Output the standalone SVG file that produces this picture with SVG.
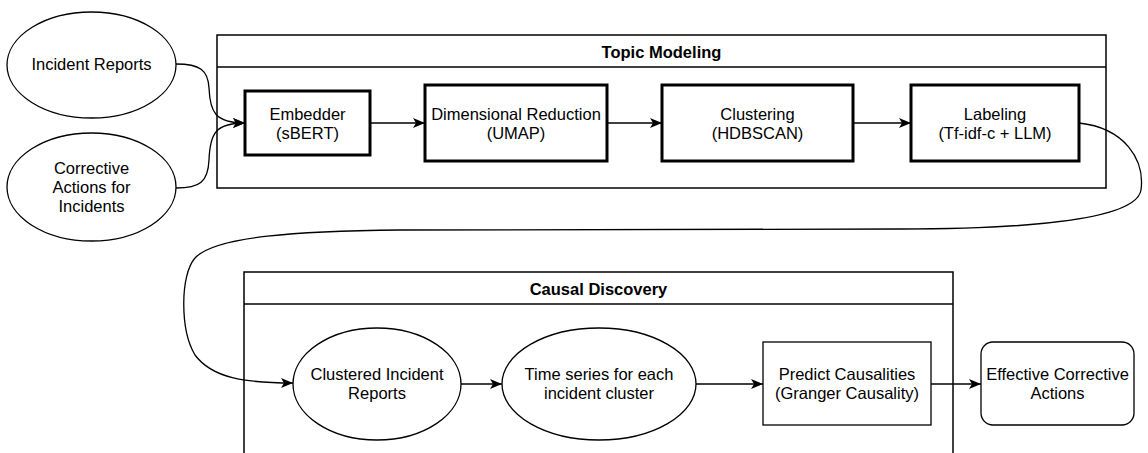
<svg xmlns="http://www.w3.org/2000/svg" width="1148" height="453" viewBox="0 0 1148 453">
<style>
text{font-family:"Liberation Sans",Arial,sans-serif;font-size:16.5px;fill:#000;text-anchor:middle}
.t{font-weight:bold}
.c{fill:#fff;stroke:#000;stroke-width:1.5}
.thick{fill:#fff;stroke:#000;stroke-width:3}
.n{fill:#fff;stroke:#000;stroke-width:1.3}
.e{fill:none;stroke:#000;stroke-width:1.3}
</style>
<defs>
<marker id="a" viewBox="0 0 12 10" refX="12" refY="5" markerWidth="12" markerHeight="10" markerUnits="userSpaceOnUse" orient="auto">
<path d="M0,0 L12,5 L0,10 L3,5 Z" fill="#000"/>
</marker>
</defs>
<rect width="1148" height="453" fill="#fff"/>
<g id="topic-modeling">
<rect class="c" x="217" y="35" width="889" height="153"/>
<line class="c" x1="217" y1="67" x2="1106" y2="67"/>
<text class="t" x="661.5" y="58">Topic Modeling</text>
</g>
<g id="causal-discovery">
<rect class="c" x="244" y="272" width="709" height="190"/>
<line class="c" x1="244" y1="304" x2="953" y2="304"/>
<text class="t" x="598.5" y="295">Causal Discovery</text>
</g>
<g id="incident-reports">
<ellipse class="n" cx="91.5" cy="65" rx="84.5" ry="53"/>
<text x="91.5" y="70">Incident Reports</text>
</g>
<g id="corrective-actions">
<ellipse class="n" cx="91.5" cy="187" rx="84.5" ry="54"/>
<text x="91.5" y="174">Corrective</text>
<text x="91.5" y="193">Actions for</text>
<text x="91.5" y="212">Incidents</text>
</g>
<g id="embedder">
<rect class="thick" x="245" y="91" width="125" height="64"/>
<text x="307.5" y="120">Embedder</text>
<text x="307.5" y="139">(sBERT)</text>
</g>
<g id="dim-reduction">
<rect class="thick" x="425" y="85" width="182" height="76"/>
<text x="516" y="120">Dimensional Reduction</text>
<text x="516" y="139">(UMAP)</text>
</g>
<g id="clustering">
<rect class="thick" x="662" y="85" width="191" height="76"/>
<text x="757.5" y="120">Clustering</text>
<text x="757.5" y="139">(HDBSCAN)</text>
</g>
<g id="labeling">
<rect class="thick" x="911" y="85" width="168" height="76"/>
<text x="995" y="120">Labeling</text>
<text x="995" y="139">(Tf-idf-c + LLM)</text>
</g>
<g id="clustered-incident-reports">
<ellipse class="n" cx="377" cy="384" rx="84" ry="56"/>
<text x="377" y="380">Clustered Incident</text>
<text x="377" y="399">Reports</text>
</g>
<g id="time-series">
<ellipse class="n" cx="599" cy="384" rx="97" ry="56"/>
<text x="599" y="380">Time series for each</text>
<text x="599" y="399">incident cluster</text>
</g>
<g id="predict-causalities">
<rect class="n" x="763" y="342" width="168" height="83"/>
<text x="847" y="380">Predict Causalities</text>
<text x="847" y="399">(Granger Causality)</text>
</g>
<g id="effective-actions">
<rect class="n" x="981" y="342" width="153" height="83" rx="12" ry="12"/>
<text x="1057.5" y="380">Effective Corrective</text>
<text x="1057.5" y="399">Actions</text>
</g>
<g id="connectors">
<path class="e" d="M176,64 C200,64 208,70 209,88 C210,112 215,123 245,123" marker-end="url(#a)"/>
<path class="e" d="M176,188 C200,188 208,182 209,160 C210,134 215,123 245,123" marker-end="url(#a)"/>
<path class="e" d="M370,123 L425,123" marker-end="url(#a)"/>
<path class="e" d="M607,123 L662,123" marker-end="url(#a)"/>
<path class="e" d="M853,123 L911,123" marker-end="url(#a)"/>
<path class="e" d="M1079,123 C1125,128 1145,160 1141,190 C1136,222 1010,229 900,229 L400,230 C300,231 215,236 195,258 C180,275 180,330 195,355 C212,378 245,383 293,383" marker-end="url(#a)"/>
<path class="e" d="M461,384 L502,384" marker-end="url(#a)"/>
<path class="e" d="M696,384 L763,384" marker-end="url(#a)"/>
<path class="e" d="M931,384 L981,384" marker-end="url(#a)"/>
</g>
</svg>
